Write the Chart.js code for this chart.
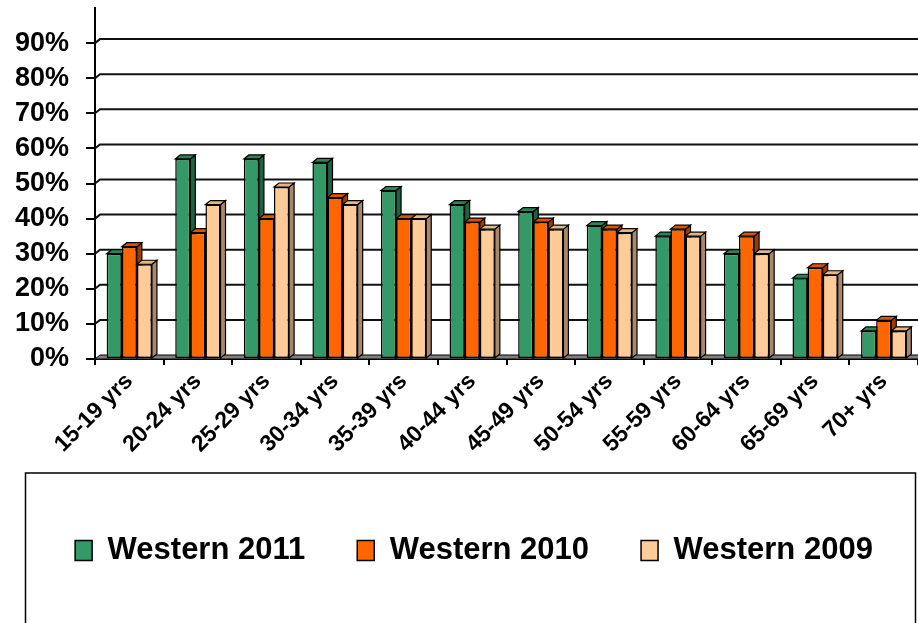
<!DOCTYPE html>
<html>
<head>
<meta charset="utf-8">
<script src="https://cdn.jsdelivr.net/npm/chart.js@4"></script>
<style>
  html, body { margin: 0; padding: 0; background: #fff; }
  canvas { display: block; }
</style>
</head>
<body>
<canvas id="grafico" width="918" height="623"></canvas>
<script>
// dados
const categorias = ["15-19 yrs", "20-24 yrs", "25-29 yrs", "30-34 yrs", "35-39 yrs", "40-44 yrs",
  "45-49 yrs", "50-54 yrs", "55-59 yrs", "60-64 yrs", "65-69 yrs", "70+ yrs"];
const western2011 = [30, 57, 57, 56, 48, 44, 42, 38, 35, 30, 23, 8];
const western2010 = [32, 36, 40, 46, 40, 39, 39, 37, 37, 35, 26, 11];
const western2009 = [27, 44, 49, 44, 40, 37, 37, 36, 35, 30, 24, 8];

const FONTE = "'Liberation Sans', Arial, sans-serif";
const PROF = { dx: 5, dy: 4 }; // profundidade do efeito 3D

const series = [
  { label: "Western 2011", data: western2011, cor: "#339966", topo: "#2b8457", lado: "#1f6140" },
  { label: "Western 2010", data: western2010, cor: "#ff6600", topo: "#d95500", lado: "#9c3d00" },
  { label: "Western 2009", data: western2009, cor: "#ffcc99", topo: "#e6b584", lado: "#a8876a" },
];

// parede do fundo, piso e faces 3D das colunas
const fundo3d = {
  id: "fundo3d",
  afterLayout(chart) {
    // desloca a legenda um pouco para a direita, como no original
    if (chart.legend) {
      chart.legend.left += 15;
      chart.legend.right += 15;
    }
  },
  beforeDatasetsDraw(chart) {
    const { ctx, chartArea: a, scales: { y } } = chart;
    ctx.save();
    // piso
    ctx.beginPath();
    ctx.moveTo(a.left, a.bottom);
    ctx.lineTo(a.left + PROF.dx, a.bottom - PROF.dy);
    ctx.lineTo(a.right + PROF.dx, a.bottom - PROF.dy);
    ctx.lineTo(a.right, a.bottom);
    ctx.closePath();
    ctx.fillStyle = "#808080";
    ctx.fill();
    ctx.strokeStyle = "#000";
    ctx.lineWidth = 1;
    ctx.stroke();
    // linhas de grade na parede do fundo
    ctx.strokeStyle = "#111";
    ctx.lineWidth = 2;
    y.ticks.forEach((t) => {
      if (t.value <= 0 || t.label == null) return;
      const py = y.getPixelForValue(t.value);
      ctx.beginPath();
      ctx.moveTo(a.left, py);
      ctx.lineTo(a.left + PROF.dx, py - PROF.dy);
      ctx.lineTo(a.right + 10, py - PROF.dy);
      ctx.stroke();
    });
    // topo e lateral de cada coluna
    ctx.lineWidth = 1.2;
    ctx.strokeStyle = "#000";
    for (let i = 0; i < categorias.length; i++) {
      series.forEach((s, d) => {
        const el = chart.getDatasetMeta(d).data[i];
        const l = el.x - el.width / 2, r = el.x + el.width / 2, t = el.y, b = el.base;
        ctx.beginPath();
        ctx.moveTo(r, t);
        ctx.lineTo(r + PROF.dx, t - PROF.dy);
        ctx.lineTo(r + PROF.dx, b - PROF.dy);
        ctx.lineTo(r, b);
        ctx.closePath();
        ctx.fillStyle = s.lado;
        ctx.fill();
        ctx.stroke();
        ctx.beginPath();
        ctx.moveTo(l, t);
        ctx.lineTo(l + PROF.dx, t - PROF.dy);
        ctx.lineTo(r + PROF.dx, t - PROF.dy);
        ctx.lineTo(r, t);
        ctx.closePath();
        ctx.fillStyle = s.topo;
        ctx.fill();
        ctx.stroke();
      });
    }
    ctx.restore();
  },
};

// moldura da legenda
const caixaLegenda = {
  id: "caixaLegenda",
  afterDraw(chart) {
    const lg = chart.legend;
    if (!lg) return;
    const ctx = chart.ctx;
    ctx.save();
    ctx.strokeStyle = "#000";
    ctx.lineWidth = 1.5;
    ctx.strokeRect(25.5, lg.top - 10, 890, 200);
    ctx.restore();
  },
};

new Chart(document.getElementById("grafico"), {
  type: "bar",
  data: {
    labels: categorias,
    datasets: series.map((s) => ({
      label: s.label,
      data: s.data,
      backgroundColor: s.cor,
      borderColor: "#000",
      borderWidth: 1.5,
      borderSkipped: false,
      barPercentage: 1,
      categoryPercentage: 0.66,
    })),
  },
  options: {
    responsive: false,
    animation: false,
    layout: { padding: { left: 0, top: 8, right: 0, bottom: 47 } },
    plugins: {
      tooltip: { enabled: false },
      legend: {
        position: "bottom",
        labels: {
          color: "#000",
          boxWidth: 17,
          boxHeight: 20,
          padding: 52,
          font: { family: FONTE, size: 31, weight: "bold" },
        },
      },
    },
    scales: {
      x: {
        grid: { drawOnChartArea: false, color: "#000", lineWidth: 2, tickLength: 6 },
        border: { color: "#000", width: 2 },
        ticks: {
          color: "#000",
          maxRotation: 45,
          minRotation: 45,
          padding: 3,
          font: { family: FONTE, size: 23, weight: "bold" },
        },
        afterFit(s) {
          const lh = s.chart.legend ? s.chart.legend.height : 93;
          s.height = s.chart.height - 47 - lh - 359;
        },
      },
      y: {
        min: 0,
        max: 100,
        grid: { drawOnChartArea: false, color: "#000", lineWidth: 2, tickLength: 9 },
        border: { color: "#000", width: 2 },
        ticks: {
          stepSize: 10,
          color: "#000",
          padding: 17,
          font: { family: FONTE, size: 27, weight: "bold" },
          callback: (v) => (v >= 100 ? null : v + "%"),
        },
        afterFit(s) {
          s.width = 95;
          s.paddingTop = 0;
          s.paddingBottom = 0;
        },
      },
    },
  },
  plugins: [fundo3d, caixaLegenda],
});
</script>
</body>
</html>
